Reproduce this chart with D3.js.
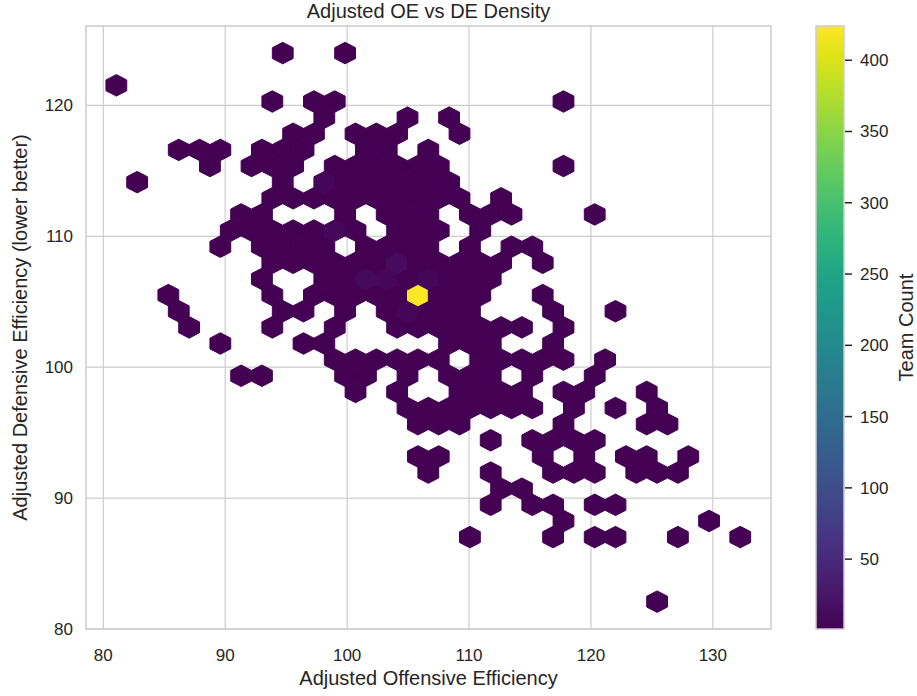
<!DOCTYPE html>
<html>
<head>
<meta charset="utf-8">
<script src="https://cdn.jsdelivr.net/npm/d3@7"></script>
<style>
  body { margin: 0; background: #fff; }
  text { font-family: "Liberation Sans", Arial, sans-serif; fill: #262626; }
</style>
</head>
<body>
<div id="chart"></div>
<script>
// hexbin grid: gridsize 30 over the extent of the binned data
const oeExtent = [81.07, 132.25];
const deExtent = [82.09, 124.0];
const gridX = 30, gridY = 17;

// occupied bins for each DE row (row 0 = bottom), columns counted in half steps of OE
const rowCols = [
  [52],
  [],
  [],
  [],
  [34, 42, 46, 48, 54, 60],
  [43, 57],
  [36, 40, 42, 46, 48],
  [37, 39],
  [30, 36, 42, 44, 46, 50, 52, 54],
  [29, 31, 41, 45, 49, 51, 55],
  [36, 40, 42, 44, 46],
  [29, 31, 33, 43, 51, 53],
  [28, 30, 32, 34, 36, 38, 40, 44, 48, 52],
  [23, 27, 33, 35, 37, 39, 43, 45, 51],
  [12, 14, 22, 24, 28, 32, 34, 36, 40, 46],
  [21, 23, 25, 27, 29, 31, 35, 37, 39, 41, 43, 47],
  [10, 18, 20, 32, 34, 36, 42],
  [7, 15, 21, 27, 29, 31, 33, 35, 37, 39, 43],
  [6, 16, 18, 22, 26, 28, 30, 32, 34, 42, 48],
  [5, 15, 19, 21, 23, 25, 27, 29, 31, 33, 35, 41],
  [14, 20, 22, 24, 26, 28, 30, 32, 34, 36],
  [15, 17, 19, 21, 23, 25, 27, 29, 31, 33, 35, 37, 41],
  [10, 14, 16, 18, 20, 24, 26, 28, 30, 34, 38, 40],
  [11, 13, 15, 17, 19, 21, 23, 27, 29, 31, 35],
  [12, 14, 22, 26, 28, 30, 34, 36, 38, 46],
  [15, 17, 19, 21, 23, 25, 27, 29, 31, 33, 37],
  [2, 16, 20, 22, 24, 26, 28, 30, 32],
  [9, 13, 15, 17, 21, 23, 25, 27, 29, 31, 43],
  [6, 8, 10, 14, 16, 18, 24, 26, 30],
  [17, 19, 23, 25, 27, 33],
  [20, 28, 32],
  [15, 19, 21, 43],
  [0],
  [],
  [16, 22]
];

// bins holding more than one or two teams [col, row, count]
const busyBins = [
  [29, 19, 424],
  [27, 21, 14],
  [24, 20, 11],
  [21, 23, 9],
  [26, 20, 8],
  [20, 26, 7],
  [30, 20, 6],
  [28, 18, 6]
];

const xTicks = [80, 90, 100, 110, 120, 130];
const yTicks = [80, 90, 100, 110, 120];
const cbTicks = [50, 100, 150, 200, 250, 300, 350, 400];
const countRange = [1, 424];

const W = 917, H = 696;
const plot = {left: 86, right: 771, top: 26, bottom: 629};

const svg = d3.select("#chart").append("svg")
  .attr("width", W).attr("height", H);
svg.append("rect").attr("width", W).attr("height", H).attr("fill", "#fff");

const x = d3.scaleLinear().domain([78.58, 134.77]).range([plot.left, plot.right]);
const y = d3.scaleLinear().domain([80, 126.07]).range([plot.bottom, plot.top]);
const color = d3.scaleSequential(d3.interpolateViridis).domain(countRange);

// grid
svg.append("g").selectAll("line")
  .data(xTicks).join("line")
  .attr("x1", d => x(d)).attr("x2", d => x(d))
  .attr("y1", plot.top).attr("y2", plot.bottom)
  .attr("stroke", "#cccccc").attr("stroke-width", 1.2);
svg.append("g").selectAll("line")
  .data(yTicks).join("line")
  .attr("y1", d => y(d)).attr("y2", d => y(d))
  .attr("x1", plot.left).attr("x2", plot.right)
  .attr("stroke", "#cccccc").attr("stroke-width", 1.2);

// bins
const sx = (oeExtent[1] - oeExtent[0]) / gridX;
const sy = (deExtent[1] - deExtent[0]) / gridY;
const busy = new Map(busyBins.map(b => [b[0] + "," + b[1], b[2]]));
const bins = [];
rowCols.forEach((cols, r) => cols.forEach(c => {
  bins.push({
    oe: oeExtent[0] + c * sx / 2,
    de: deExtent[0] + r * sy / 2,
    count: busy.get(c + "," + r) || 1
  });
}));

const hexCorners = [[0.5, -0.5], [0.5, 0.5], [0, 1], [-0.5, 0.5], [-0.5, -0.5], [0, -1]]
  .map(p => [p[0] * sx, p[1] * sy / 3]);
const line = d3.line();

svg.append("g").selectAll("path")
  .data(bins).join("path")
  .attr("d", d => line(hexCorners.map(p => [x(d.oe + p[0]), y(d.de + p[1])])) + "Z")
  .attr("fill", d => color(d.count))
  .attr("stroke", d => color(d.count))
  .attr("stroke-width", 1);

// frame
svg.append("rect")
  .attr("x", plot.left).attr("y", plot.top)
  .attr("width", plot.right - plot.left).attr("height", plot.bottom - plot.top)
  .attr("fill", "none").attr("stroke", "#cccccc").attr("stroke-width", 1.5);

// tick labels
svg.append("g").selectAll("text")
  .data(xTicks).join("text")
  .attr("x", d => x(d)).attr("y", 661)
  .attr("text-anchor", "middle").style("font-size", "17px")
  .text(d => d);
svg.append("g").selectAll("text")
  .data(yTicks).join("text")
  .attr("x", 73).attr("y", d => y(d) + 6)
  .attr("text-anchor", "end").style("font-size", "17px")
  .text(d => d);

svg.append("text")
  .attr("x", (plot.left + plot.right) / 2).attr("y", 685)
  .attr("text-anchor", "middle").style("font-size", "20px")
  .text("Adjusted Offensive Efficiency");
svg.append("text")
  .attr("transform", `translate(27, ${(plot.top + plot.bottom) / 2}) rotate(-90)`)
  .attr("text-anchor", "middle").style("font-size", "20px")
  .text("Adjusted Defensive Efficiency (lower better)");
svg.append("text")
  .attr("x", (plot.left + plot.right) / 2).attr("y", 18)
  .attr("text-anchor", "middle").style("font-size", "20px")
  .text("Adjusted OE vs DE Density");

// colorbar
const cb = {left: 816, right: 844};
const cy = d3.scaleLinear().domain(countRange).range([plot.bottom, plot.top]);
const grad = svg.append("defs").append("linearGradient")
  .attr("id", "viridis").attr("x1", 0).attr("x2", 0).attr("y1", 1).attr("y2", 0);
d3.range(0, 1.0001, 0.05).forEach(t => {
  grad.append("stop").attr("offset", t).attr("stop-color", d3.interpolateViridis(t));
});
svg.append("rect")
  .attr("x", cb.left).attr("y", plot.top)
  .attr("width", cb.right - cb.left).attr("height", plot.bottom - plot.top)
  .attr("fill", "url(#viridis)")
  .attr("stroke", "#cccccc").attr("stroke-width", 1.5);
svg.append("g").selectAll("line")
  .data(cbTicks).join("line")
  .attr("x1", cb.right + 1).attr("x2", cb.right + 8)
  .attr("y1", d => cy(d)).attr("y2", d => cy(d))
  .attr("stroke", "#262626").attr("stroke-width", 1.5);
svg.append("g").selectAll("text")
  .data(cbTicks).join("text")
  .attr("x", 860).attr("y", d => cy(d) + 6)
  .style("font-size", "17px")
  .text(d => d);
svg.append("text")
  .attr("transform", `translate(913, ${(plot.top + plot.bottom) / 2}) rotate(-90)`)
  .attr("text-anchor", "middle").style("font-size", "20px")
  .text("Team Count");
</script>
</body>
</html>
